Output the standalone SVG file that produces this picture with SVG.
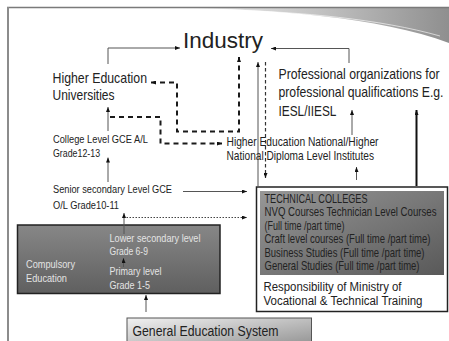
<svg xmlns="http://www.w3.org/2000/svg" width="449" height="341" viewBox="0 0 449 341">
<defs>
<style>
.n{font-family:"Liberation Sans",Arial,sans-serif;fill:#222}
.w{font-family:"Liberation Sans",Arial,sans-serif;fill:#222}
.lt{fill:#e4e4e4}
.ln{fill:none;stroke:#555;stroke-width:1}
.tk{fill:none;stroke:#1a1a1a;stroke-width:2;stroke-dasharray:5 4}
.th{fill:none;stroke:#333;stroke-width:1.2;stroke-dasharray:3.5 2.5}
.dt{fill:none;stroke:#444;stroke-width:1;stroke-dasharray:1.5 1.5}
.bd{fill:none;stroke:#111;stroke-width:2}
</style>
<marker id="ah" markerUnits="userSpaceOnUse" markerWidth="5" markerHeight="4" refX="5" refY="2" orient="auto-start-reverse"><path d="M0,0 L5,2 L0,4 z" fill="#111"/></marker>
<linearGradient id="gComp" x1="0" y1="0" x2="0" y2="1"><stop offset="0" stop-color="#878787"/><stop offset="1" stop-color="#5f5f5f"/></linearGradient>
<linearGradient id="gTech" x1="0" y1="0" x2="1" y2="1"><stop offset="0" stop-color="#979797"/><stop offset="1" stop-color="#595959"/></linearGradient>
<linearGradient id="gGen" x1="0" y1="0" x2="1" y2="1"><stop offset="0" stop-color="#f2f2f2"/><stop offset="1" stop-color="#8e8e8e"/></linearGradient>
<linearGradient id="gSw" x1="180" y1="0" x2="449" y2="0" gradientUnits="userSpaceOnUse"><stop offset="0" stop-color="#f4f4f4"/><stop offset="0.5" stop-color="#c4c4c4"/><stop offset="1" stop-color="#8f8f8f"/></linearGradient>
</defs>

<g id="frame">
<path d="M180,8 C270,9 380,17 449,43 V7 H180 Z" fill="url(#gSw)"/>
<path d="M230,10 C300,12 380,19 440,36" fill="none" stroke="#fff" stroke-width="1" opacity="0.6"/>
<line x1="7" y1="7.5" x2="449" y2="7.5" stroke="#7a7a7a" stroke-width="1.3"/>
<line x1="8" y1="7" x2="8" y2="341" stroke="#8c8c8c" stroke-width="2"/>
</g>

<g id="industry"><text class="w" x="183" y="47.5" font-size="22.5" textLength="80" lengthAdjust="spacingAndGlyphs">Industry</text></g>

<g id="universities">
<text class="n" transform="translate(52.5,82.5) scale(0.84,1)" font-size="14" textLength="112.5" lengthAdjust="spacingAndGlyphs">Higher Education</text>
<text class="n" transform="translate(52.5,99.5) scale(0.84,1)" font-size="14" textLength="73.8" lengthAdjust="spacingAndGlyphs">Universities</text>
</g>

<g id="professional">
<text class="n" transform="translate(278.5,78.5) scale(0.84,1)" font-size="14.5" textLength="191.7" lengthAdjust="spacingAndGlyphs">Professional organizations for</text>
<text class="n" transform="translate(278.5,97) scale(0.84,1)" font-size="14.5" textLength="196.4" lengthAdjust="spacingAndGlyphs">professional qualifications E.g.</text>
<text class="n" transform="translate(278.5,115.5) scale(0.84,1)" font-size="14.5" textLength="69" lengthAdjust="spacingAndGlyphs">IESL/IIESL</text>
</g>

<g id="college">
<text class="n" transform="translate(53,142.5) scale(0.84,1)" font-size="11.3" textLength="113.1" lengthAdjust="spacingAndGlyphs">College Level GCE A/L</text>
<text class="n" transform="translate(53,157) scale(0.84,1)" font-size="11.3" textLength="56" lengthAdjust="spacingAndGlyphs">Grade12-13</text>
</g>

<g id="national">
<text class="n" transform="translate(226.5,145.5) scale(0.84,1)" font-size="12.5" textLength="181" lengthAdjust="spacingAndGlyphs">Higher Education National/Higher</text>
<text class="n" transform="translate(226.5,160) scale(0.84,1)" font-size="12.5" textLength="175.6" lengthAdjust="spacingAndGlyphs">National Diploma Level Institutes</text>
</g>

<g id="senior">
<text class="n" transform="translate(53,192.5) scale(0.84,1)" font-size="11.3" textLength="141.7" lengthAdjust="spacingAndGlyphs">Senior secondary Level GCE</text>
<text class="n" transform="translate(53,208.5) scale(0.84,1)" font-size="11.3" textLength="78.6" lengthAdjust="spacingAndGlyphs">O/L Grade10-11</text>
</g>

<g id="compulsory">
<rect x="17.5" y="225" width="202.5" height="68.5" fill="url(#gComp)" stroke="#222" stroke-width="1.5"/>
<text class="n lt" transform="translate(26,268) scale(0.84,1)" font-size="11.5" textLength="58.3" lengthAdjust="spacingAndGlyphs">Compulsory</text>
<text class="n lt" transform="translate(26,282) scale(0.84,1)" font-size="11.5" textLength="48.8" lengthAdjust="spacingAndGlyphs">Education</text>
<text class="n lt" transform="translate(109.5,241.5) scale(0.84,1)" font-size="11.5" textLength="108.3" lengthAdjust="spacingAndGlyphs">Lower secondary level</text>
<text class="n lt" transform="translate(109.5,255) scale(0.84,1)" font-size="11.5" textLength="45.8" lengthAdjust="spacingAndGlyphs">Grade 6-9</text>
<text class="n lt" transform="translate(109.5,275) scale(0.84,1)" font-size="11.5" textLength="61.9" lengthAdjust="spacingAndGlyphs">Primary level</text>
<text class="n lt" transform="translate(109.5,288.5) scale(0.84,1)" font-size="11.5" textLength="48.2" lengthAdjust="spacingAndGlyphs">Grade 1-5</text>
</g>

<g id="technical">
<rect x="256.5" y="187" width="191" height="124.5" fill="#fff" stroke="#222" stroke-width="1.5"/>
<rect x="260" y="191" width="184" height="84" fill="url(#gTech)"/>
<text class="n" transform="translate(264.5,202.5) scale(0.84,1)" font-size="12" textLength="122.6" lengthAdjust="spacingAndGlyphs">TECHNICAL COLLEGES</text>
<text class="n" transform="translate(264.5,216) scale(0.84,1)" font-size="12" textLength="204.8" lengthAdjust="spacingAndGlyphs">NVQ Courses Technician Level Courses</text>
<text class="n" transform="translate(264.5,229.5) scale(0.84,1)" font-size="12" textLength="95.2" lengthAdjust="spacingAndGlyphs">(Full time /part time)</text>
<text class="n" transform="translate(264.5,243) scale(0.84,1)" font-size="12" textLength="197.6" lengthAdjust="spacingAndGlyphs">Craft level courses (Full time /part time)</text>
<text class="n" transform="translate(264.5,256.5) scale(0.84,1)" font-size="12" textLength="190.5" lengthAdjust="spacingAndGlyphs">Business Studies (Full time /part time)</text>
<text class="n" transform="translate(264.5,270) scale(0.84,1)" font-size="12" textLength="184.5" lengthAdjust="spacingAndGlyphs">General Studies (Full time /part time)</text>
<text class="n" transform="translate(263.5,291) scale(0.84,1)" font-size="13.5" textLength="164.3" lengthAdjust="spacingAndGlyphs">Responsibility of Ministry of</text>
<text class="n" transform="translate(263.5,305) scale(0.84,1)" font-size="13.5" textLength="189.3" lengthAdjust="spacingAndGlyphs">Vocational &amp; Technical Training</text>
</g>

<g id="general">
<rect x="127" y="318" width="184.5" height="30" fill="url(#gGen)" stroke="#555" stroke-width="1"/>
<text class="n" transform="translate(132.5,335.5) scale(0.84,1)" font-size="15" textLength="173.8" lengthAdjust="spacingAndGlyphs">General Education System</text>
</g>

<g id="connectors">
<path class="ln" d="M108,64 V48 H180" marker-end="url(#ah)"/>
<path class="ln" d="M349,63 V48.5 H271" marker-end="url(#ah)"/>
<path class="tk" d="M151,82.5 H177 V131.5 H239 V57" marker-start="url(#ah)" marker-end="url(#ah)"/>
<path class="tk" d="M110,117 H160.5 V143.5 H222" marker-end="url(#ah)"/>
<path class="th" d="M265.5,62 V178" marker-end="url(#ah)"/>
<path class="ln" d="M258,186 V62" marker-end="url(#ah)"/>
<path class="ln" d="M356.5,180 V167" marker-end="url(#ah)"/>
<path class="ln" d="M352,135 V110" marker-end="url(#ah)"/>
<path class="bd" d="M416.5,186 V110" marker-end="url(#ah)"/>
<path class="ln" d="M108,131 V107" marker-end="url(#ah)"/>
<path class="ln" d="M108,182 V157.5" marker-end="url(#ah)"/>
<path class="ln" d="M183,191.5 H247" marker-end="url(#ah)"/>
<path class="dt" d="M126.5,217.5 H247" marker-end="url(#ah)"/>
<path class="ln" d="M124,234 V213" marker-end="url(#ah)"/>
<path class="ln" d="M123.5,267 V258" marker-end="url(#ah)"/>
<path class="ln" d="M146,312 V295" marker-end="url(#ah)"/>
</g>
</svg>
